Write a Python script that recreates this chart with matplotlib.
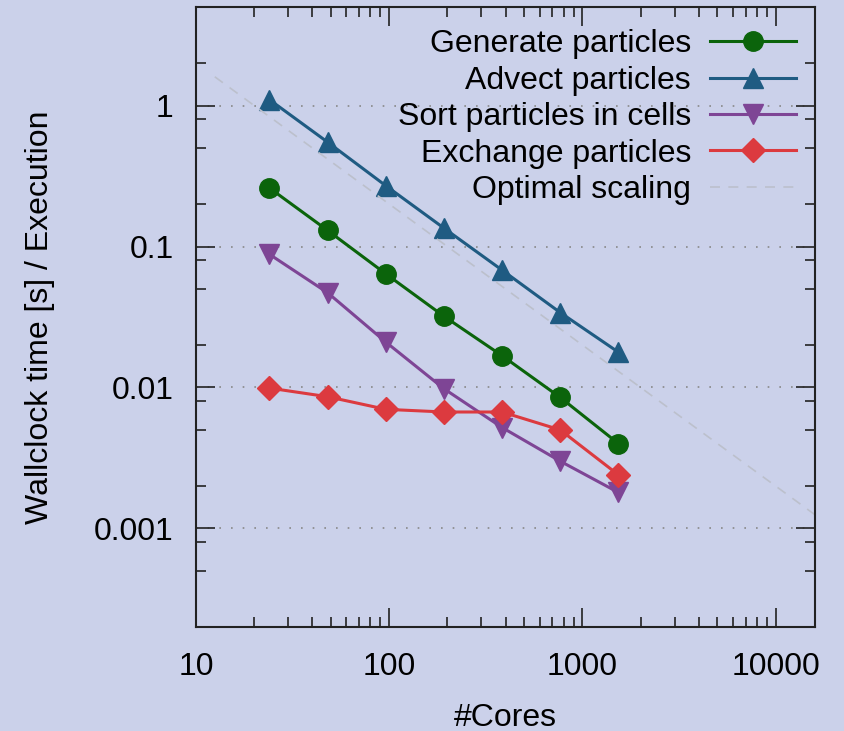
import numpy as np
import matplotlib
matplotlib.use("Agg")
import matplotlib.pyplot as plt
from matplotlib.ticker import LogLocator, FixedLocator, NullFormatter

plt.rcParams['font.family'] = ['Liberation Sans', 'DejaVu Sans']

# data
cores = [24, 48, 96, 192, 384, 768, 1536]
generate = [0.26, 0.13, 0.064, 0.032, 0.0168, 0.0085, 0.0040]
advect = [1.1, 0.55, 0.27, 0.135, 0.068, 0.034, 0.0178]
sort_cells = [0.088, 0.047, 0.021, 0.0098, 0.0052, 0.0030, 0.0018]
exchange = [0.0099, 0.0086, 0.0070, 0.0067, 0.0067, 0.0050, 0.0024]
optimal_x = [12.5, 16000]
optimal_y = [1.6, 0.00125]

bg = '#cbd1ea'
fs = 23

fig = plt.figure(figsize=(8.45, 7.31), dpi=100, facecolor=bg)
ax = fig.add_axes([0.232, 0.1423, 0.7325, 0.8481], facecolor=bg)

ax.plot(cores, generate, '-o', color='#0b640b', lw=2.2, ms=14, label='Generate particles')
ax.plot(cores, advect, '-^', color='#1f5b82', lw=2.2, ms=15, label='Advect particles')
ax.plot(cores, sort_cells, '-v', color='#7e4595', lw=2.2, ms=15, label='Sort particles in cells')
ax.plot(cores, exchange, '-D', color='#dc3a3f', lw=2.2, ms=12, label='Exchange particles')
ax.plot(optimal_x, optimal_y, '--', color='#bcc0cc', lw=1.2, dashes=(6, 5), label='Optimal scaling')

ax.set_xscale('log')
ax.set_yscale('log')
ax.set_xlim(10, 16000)
ax.set_ylim(2e-4, 5)

ax.xaxis.set_major_locator(FixedLocator([10, 100, 1000, 10000]))
ax.xaxis.set_minor_locator(LogLocator(base=10, subs=np.arange(2, 10)))
ax.xaxis.set_minor_formatter(NullFormatter())
ax.set_xticklabels(['10', '100', '1000', '10000'])

ax.yaxis.set_major_locator(FixedLocator([0.001, 0.01, 0.1, 1]))
ax.yaxis.set_minor_locator(LogLocator(base=10, subs=[2, 5, 8]))
ax.yaxis.set_minor_formatter(NullFormatter())
ax.set_yticklabels(['0.001', '0.01', '0.1', '1'])

ax.tick_params(which='both', direction='in', top=True, right=True, width=1.2, colors='#222222',
               labelcolor='black', labelsize=fs)
ax.tick_params(which='major', length=14)
ax.tick_params(which='minor', length=7)
ax.tick_params(axis='x', which='major', pad=18)
ax.tick_params(axis='y', which='major', pad=16)
for s in ax.spines.values():
    s.set_linewidth(1.5)
    s.set_color('#222222')

ax.yaxis.grid(True, which='major', linestyle=(0, (1, 6)), color='#888888', lw=1.2)

ax.set_xlabel('#Cores', fontsize=fs, labelpad=15)
ax.set_ylabel('Wallclock time [s] / Execution', fontsize=fs, labelpad=28)

ax.legend(loc='upper right', markerfirst=False, frameon=False, fontsize=fs,
          handlelength=2.7, labelspacing=0.2, handletextpad=0.6,
          borderaxespad=0.3, bbox_to_anchor=(1.006, 1.0))

fig.savefig('out.png', dpi=100, facecolor=bg)
